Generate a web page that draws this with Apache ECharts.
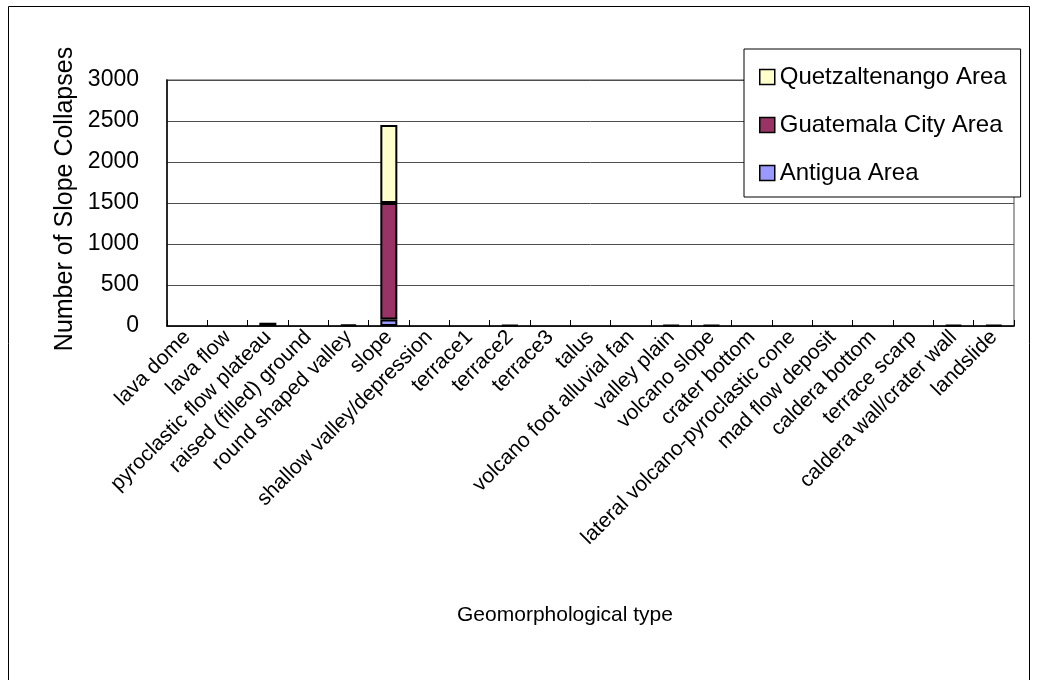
<!DOCTYPE html>
<html>
<head>
<meta charset="utf-8">
<script src="https://cdn.jsdelivr.net/npm/echarts@6/dist/echarts.min.js"></script>
<style>
  html, body { margin: 0; padding: 0; background: #fff; }
  #chart { width: 1038px; height: 680px; }
</style>
</head>
<body>
<div id="chart"></div>
<script>
// Geomorphological types (x categories)
const categories = [
  'lava dome', 'lava flow', 'pyroclastic flow plateau', 'raised (filled) ground',
  'round shaped valley', 'slope', 'shallow valley/depression', 'terrace1',
  'terrace2', 'terrace3', 'talus', 'volcano foot alluvial fan', 'valley plain',
  'volcano slope', 'crater bottom', 'lateral volcano-pyroclastic cone',
  'mad flow deposit', 'caldera bottom', 'terrace scarp', 'caldera wall/crater wall',
  'landslide'
];

// Number of slope collapses per area (stacked bottom to top)
const antigua =        [0, 0, 0,  0,  0,   80, 0, 0, 0,  0, 0, 0, 0,  0,  0, 0, 0, 0, 0, 0,  0];
const guatemalaCity =  [0, 0, 40, 0,  20, 1420, 0, 0, 10, 0, 0, 0, 12, 12, 0, 0, 0, 0, 0, 15, 15];
const quetzaltenango = [0, 0, 0,  0,  0,  950, 0, 0, 0,  0, 0, 0, 0,  0,  0, 0, 0, 0, 0, 0,  0];

const yTicks = [0, 500, 1000, 1500, 2000, 2500, 3000];

const FONT = '"Liberation Sans", Arial, sans-serif';
const chart = echarts.init(document.getElementById('chart'), null, { renderer: 'canvas' });

// zero counts are left out so no empty outline is drawn
const blankZero = arr => arr.map(v => (v === 0 ? '-' : v));

const barStyle = color => ({ color: color, borderColor: '#000', borderWidth: 2 });

chart.setOption({
  backgroundColor: '#fff',
  animation: false,
  textStyle: { fontFamily: FONT, color: '#000' },
  graphic: [
    {
      type: 'rect',
      shape: { x: 8.5, y: 6.5, width: 1021, height: 700 },
      style: { fill: 'none', stroke: '#000', lineWidth: 1 },
      z: -10
    },
    {
      type: 'text',
      x: 65, y: 199,
      rotation: Math.PI / 2,
      style: {
        text: 'Number of Slope Collapses',
        font: '25px ' + FONT,
        fill: '#000',
        align: 'center',
        verticalAlign: 'middle'
      }
    },
    {
      type: 'text',
      x: 565, y: 615,
      style: {
        text: 'Geomorphological type',
        font: '21px ' + FONT,
        fill: '#000',
        align: 'center',
        verticalAlign: 'middle'
      }
    }
  ],
  grid: {
    left: 167, top: 80, width: 847, height: 246,
    show: true, borderColor: '#888', borderWidth: 1.5, backgroundColor: 'transparent'
  },
  legend: {
    orient: 'vertical',
    left: 744, top: 49,
    padding: [16, 14, 12, 15],
    itemGap: 24,
    itemWidth: 15, itemHeight: 15,
    backgroundColor: '#fff',
    borderColor: '#000', borderWidth: 1,
    data: ['Quetzaltenango Area', 'Guatemala City Area', 'Antigua Area'],
    icon: 'rect',
    itemStyle: { borderColor: '#000', borderWidth: 1.5 },
    textStyle: { fontSize: 24, fontFamily: FONT, color: '#000', lineHeight: 20 },
    z: 10
  },
  xAxis: {
    type: 'category',
    data: categories,
    boundaryGap: true,
    axisLine: { lineStyle: { color: '#000', width: 1.5 } },
    axisTick: { show: true, inside: true, length: 6, lineStyle: { color: '#000', width: 1 } },
    axisLabel: {
      interval: 0, rotate: 45, margin: 8,
      fontSize: 21, fontFamily: FONT, color: '#000'
    },
    splitLine: { show: false }
  },
  yAxis: {
    type: 'value',
    min: yTicks[0], max: yTicks[yTicks.length - 1], interval: 500,
    axisLine: { show: true, lineStyle: { color: '#000', width: 1.5 } },
    axisTick: { show: false },
    axisLabel: {
      margin: 28, fontSize: 23, fontFamily: FONT, color: '#000',
      formatter: v => String(v)
    },
    splitLine: { show: true, lineStyle: { color: '#4d4d4d', width: 1 } }
  },
  series: [
    {
      name: 'Antigua Area', type: 'bar', stack: 'areas',
      barWidth: 17, data: blankZero(antigua), itemStyle: barStyle('#9999FF')
    },
    {
      name: 'Guatemala City Area', type: 'bar', stack: 'areas',
      barWidth: 17, data: blankZero(guatemalaCity), itemStyle: barStyle('#993366')
    },
    {
      name: 'Quetzaltenango Area', type: 'bar', stack: 'areas',
      barWidth: 17, data: blankZero(quetzaltenango), itemStyle: barStyle('#FFFFCC')
    }
  ]
});
</script>
</body>
</html>
